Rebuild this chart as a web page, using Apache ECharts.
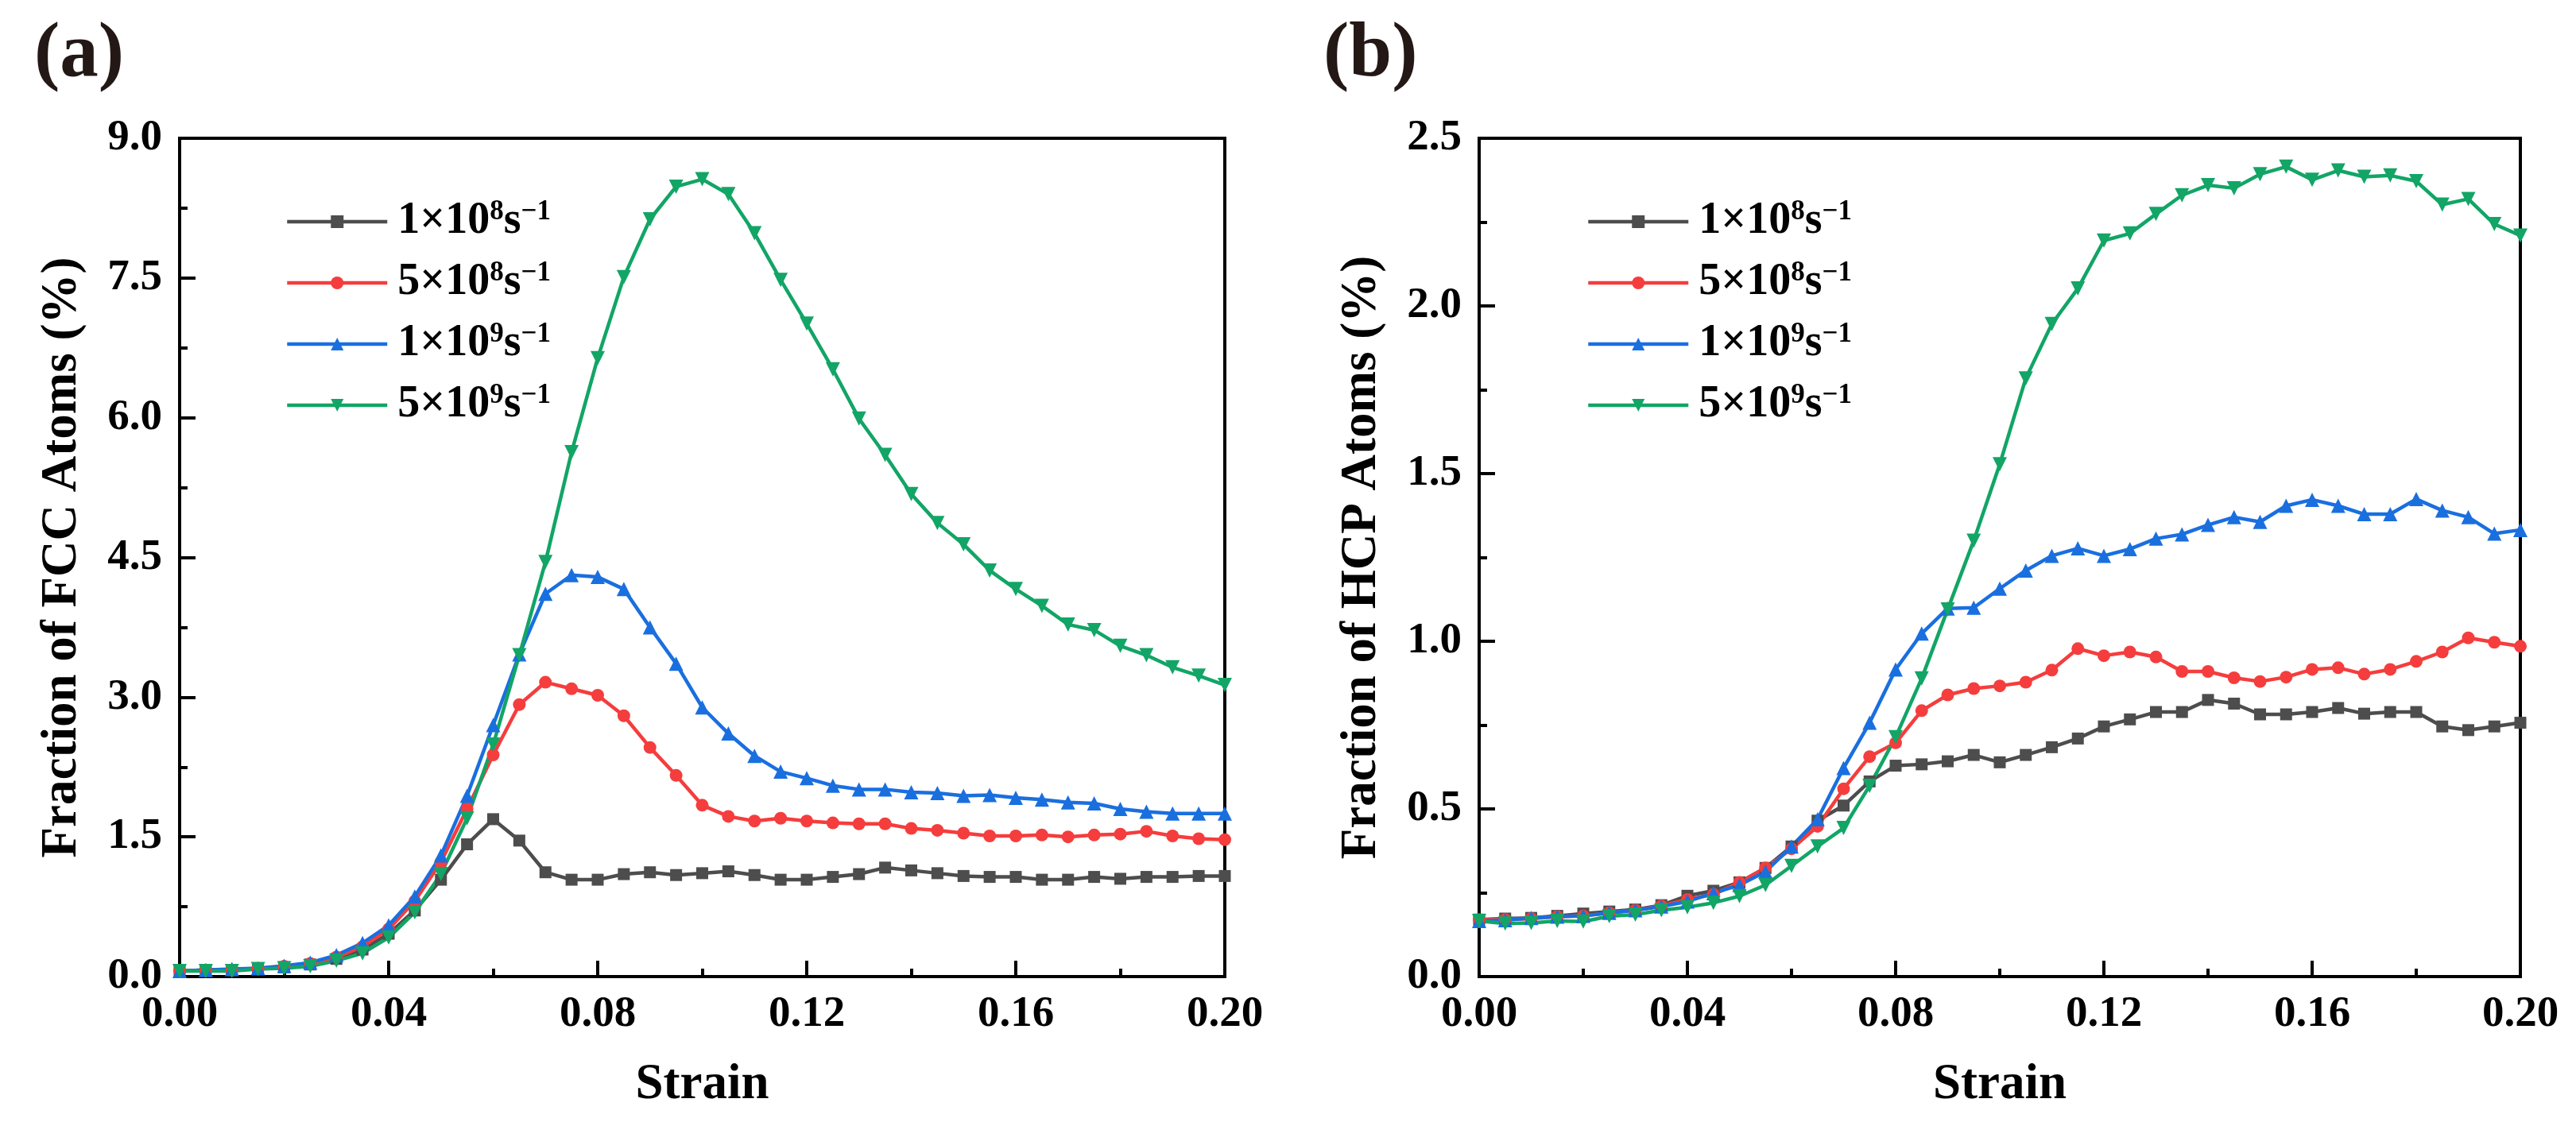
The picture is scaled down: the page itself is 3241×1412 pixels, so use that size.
<!DOCTYPE html>
<html>
<head>
<meta charset="utf-8">
<script src="https://cdn.jsdelivr.net/npm/echarts@6/dist/echarts.min.js"></script>
<style>
html,body{margin:0;padding:0;background:#fff;}
#chart{width:3241px;height:1412px;}
</style>
</head>
<body>
<div id="chart"></div>
<script>
const strain = [0,0.005,0.01,0.015,0.02,0.025,0.03,0.035,0.04,0.045,0.05,0.055,0.06,0.065,0.07,0.075,0.08,0.085,0.09,0.095,0.1,0.105,0.11,0.115,0.12,0.125,0.13,0.135,0.14,0.145,0.15,0.155,0.16,0.165,0.17,0.175,0.18,0.185,0.19,0.195,0.2];

const seriesNames = ['1×10^8 s^-1','5×10^8 s^-1','1×10^9 s^-1','5×10^9 s^-1'];
const legendRich = ['{a|1×10}{s|8}{b|s}{s|−1}','{a|5×10}{s|8}{b|s}{s|−1}','{a|1×10}{s|9}{b|s}{s|−1}','{a|5×10}{s|9}{b|s}{s|−1}'];

// Panel (a) FCC fraction (%)
const fcc1e8 = [0.06,0.07,0.07,0.085,0.10,0.13,0.19,0.29,0.46,0.71,1.04,1.42,1.69,1.46,1.12,1.04,1.04,1.10,1.12,1.09,1.11,1.13,1.09,1.04,1.04,1.07,1.10,1.17,1.14,1.11,1.08,1.07,1.07,1.04,1.04,1.07,1.05,1.07,1.07,1.08,1.08];
const fcc5e8 = [0.06,0.07,0.07,0.085,0.11,0.14,0.21,0.32,0.51,0.81,1.23,1.80,2.38,2.92,3.16,3.09,3.02,2.80,2.46,2.16,1.84,1.72,1.67,1.70,1.67,1.65,1.64,1.64,1.59,1.57,1.54,1.51,1.51,1.52,1.50,1.52,1.53,1.56,1.51,1.48,1.47];
const fcc1e9 = [0.06,0.07,0.08,0.09,0.115,0.15,0.23,0.36,0.55,0.86,1.30,1.94,2.70,3.46,4.11,4.31,4.29,4.16,3.75,3.36,2.89,2.61,2.37,2.20,2.13,2.05,2.01,2.01,1.98,1.97,1.94,1.95,1.92,1.90,1.87,1.86,1.80,1.77,1.75,1.75,1.75];
const fcc5e9 = [0.06,0.06,0.06,0.08,0.09,0.11,0.17,0.25,0.42,0.69,1.10,1.70,2.49,3.45,4.45,5.63,6.64,7.51,8.13,8.48,8.56,8.40,7.98,7.48,7.01,6.52,5.99,5.60,5.18,4.87,4.64,4.36,4.16,3.98,3.78,3.72,3.55,3.45,3.32,3.23,3.13];

// Panel (b) HCP fraction (%)
const hcp1e8 = [0.17,0.173,0.175,0.181,0.188,0.194,0.20,0.213,0.241,0.256,0.281,0.324,0.388,0.465,0.51,0.582,0.629,0.633,0.642,0.661,0.639,0.661,0.684,0.71,0.746,0.767,0.789,0.789,0.825,0.814,0.782,0.782,0.789,0.801,0.784,0.789,0.789,0.746,0.735,0.746,0.757];
const hcp5e8 = [0.17,0.17,0.173,0.179,0.181,0.19,0.198,0.211,0.23,0.245,0.281,0.324,0.381,0.448,0.56,0.656,0.697,0.793,0.84,0.859,0.867,0.878,0.914,0.978,0.957,0.968,0.953,0.91,0.91,0.891,0.88,0.893,0.916,0.921,0.902,0.916,0.94,0.968,1.01,0.997,0.985];
const hcp1e9 = [0.166,0.168,0.175,0.179,0.181,0.19,0.198,0.209,0.224,0.249,0.273,0.313,0.388,0.469,0.622,0.757,0.916,1.023,1.098,1.10,1.157,1.211,1.255,1.277,1.255,1.275,1.306,1.319,1.347,1.37,1.356,1.404,1.422,1.404,1.379,1.379,1.424,1.39,1.37,1.321,1.332];
const hcp5e9 = [0.166,0.158,0.16,0.166,0.164,0.18,0.185,0.198,0.207,0.22,0.24,0.273,0.33,0.388,0.443,0.569,0.714,0.889,1.095,1.30,1.528,1.784,1.946,2.052,2.195,2.216,2.274,2.33,2.36,2.351,2.393,2.415,2.376,2.404,2.385,2.389,2.372,2.302,2.319,2.244,2.21];

const xTicks = {min:0, max:0.2, interval:0.04};
const yTicksA = {min:0, max:9, interval:1.5};
const yTicksB = {min:0, max:2.5, interval:0.5};

const FONT = '"Liberation Serif","Times New Roman",serif';
const colors = ['#4d4d4d','#f53d3d','#1a6fdf','#12a566'];
const symbols = ['rect','circle','triangle','triangle'];
const symbolSizes = [15,16,18,18];
const symbolRotates = [0,0,0,180];

function pairs(ys){ return strain.map((x,i)=>[x, ys[i]]); }

const chart = echarts.init(document.getElementById('chart'), null, {renderer:'canvas'});

function xAxis(gi){
  return {
    type:'value', gridIndex:gi, min:xTicks.min, max:xTicks.max, interval:xTicks.interval,
    name:'Strain', nameLocation:'middle', nameGap:105,
    nameTextStyle:{fontFamily:FONT, fontWeight:'bold', fontSize:63, color:'#000'},
    axisLine:{show:true, onZero:false, lineStyle:{color:'#000', width:4}},
    axisTick:{show:true, inside:true, length:20, lineStyle:{color:'#000', width:4}},
    minorTick:{show:true, splitNumber:2, length:10, lineStyle:{color:'#000', width:4}},
    splitLine:{show:false},
    axisLabel:{margin:20, fontFamily:FONT, fontWeight:'bold', fontSize:55, color:'#000',
      showMinLabel:true, showMaxLabel:true, formatter:v=>v.toFixed(2)}
  };
}
function yAxis(gi, t, name){
  return {
    type:'value', gridIndex:gi, min:t.min, max:t.max, interval:t.interval,
    name:name, nameLocation:'middle', nameGap:116,
    nameTextStyle:{fontFamily:FONT, fontWeight:'bold', fontSize:63, color:'#000'},
    axisLine:{show:true, onZero:false, lineStyle:{color:'#000', width:4}},
    axisTick:{show:true, inside:true, length:20, lineStyle:{color:'#000', width:4}},
    minorTick:{show:true, splitNumber:2, length:10, lineStyle:{color:'#000', width:4}},
    splitLine:{show:false},
    axisLabel:{margin:22, fontFamily:FONT, fontWeight:'bold', fontSize:55, color:'#000',
      showMinLabel:true, showMaxLabel:true, formatter:v=>v.toFixed(1)}
  };
}
function makeSeries(gi, arrays){
  return arrays.map((ys,i)=>({
    type:'line', name:seriesNames[i], xAxisIndex:gi, yAxisIndex:gi,
    data:pairs(ys), symbol:symbols[i], symbolSize:symbolSizes[i], symbolRotate:symbolRotates[i],
    showAllSymbol:true, smooth:false, animation:false,
    lineStyle:{color:colors[i], width:4.5}, itemStyle:{color:colors[i], borderWidth:0}
  }));
}
const richStyle = {
  a:{fontFamily:FONT, fontWeight:'bold', fontSize:56, color:'#000', lineHeight:60, padding:[0,0,0,8]},
  b:{fontFamily:FONT, fontWeight:'bold', fontSize:56, color:'#000', lineHeight:60},
  s:{fontFamily:FONT, fontWeight:'bold', fontSize:35, color:'#000', lineHeight:32, verticalAlign:'top'}
};
function legend(left){
  return {
    orient:'vertical', left:left, top:244, itemWidth:126, itemHeight:20, itemGap:19,
    data:seriesNames, selectedMode:false,
    lineStyle:{width:4.5},
    formatter:name=>legendRich[seriesNames.indexOf(name)],
    textStyle:{fontFamily:FONT, fontWeight:'bold', fontSize:56, color:'#000', rich:richStyle}
  };
}

chart.setOption({
  backgroundColor:'#fff',
  animation:false,
  title:[
    {text:'(a)', left:38, top:16, textStyle:{fontFamily:FONT, fontWeight:'bold', fontSize:97, color:'#231815'}},
    {text:'(b)', left:1660, top:16, textStyle:{fontFamily:FONT, fontWeight:'bold', fontSize:97, color:'#231815'}}
  ],
  grid:[
    {left:226, top:174, width:1315, height:1055, show:true, borderColor:'#000', borderWidth:4, backgroundColor:'transparent'},
    {left:1861, top:174, width:1310, height:1055, show:true, borderColor:'#000', borderWidth:4, backgroundColor:'transparent'}
  ],
  legend:[legend(354), legend(1991)],
  xAxis:[xAxis(0), xAxis(1)],
  yAxis:[yAxis(0, yTicksA, 'Fraction of FCC Atoms (%)'), yAxis(1, yTicksB, 'Fraction of HCP Atoms (%)')],
  series:[].concat(
    makeSeries(0,[fcc1e8,fcc5e8,fcc1e9,fcc5e9]),
    makeSeries(1,[hcp1e8,hcp5e8,hcp1e9,hcp5e9])
  )
});
</script>
</body>
</html>
